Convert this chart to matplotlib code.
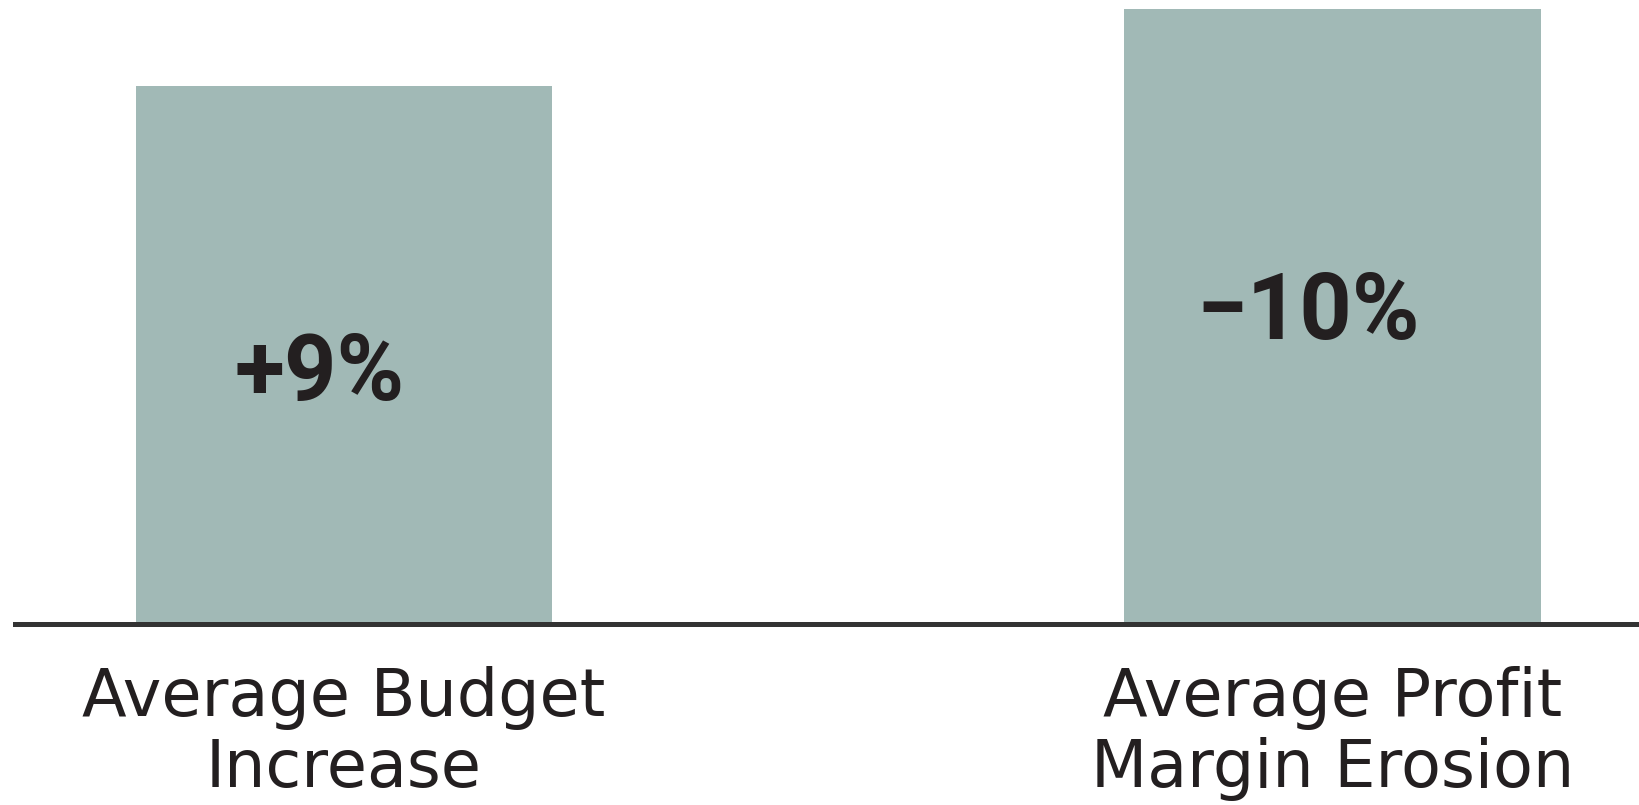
import numpy as np
import matplotlib
matplotlib.use('Agg')
import matplotlib.pyplot as plt

# data
categories = ['Average Budget\nIncrease', 'Average Profit\nMargin Erosion']
bar_heights = [8.75, 10.0]      # relative bar heights as drawn
value_labels = ['+9%', '\u221210%']

bar_color = '#a1b9b6'
text_color = '#231f20'

fig = plt.figure(figsize=(16.4, 8.05), dpi=100)
ax = fig.add_axes([0.009, 0.2248, 0.991, 0.764])

x = np.arange(len(categories))
ax.bar(x, bar_heights, width=0.4216, color=bar_color, zorder=1)

ax.set_xlim(-0.333, 1.311)
ax.set_ylim(0, 10)

# value labels sit a little left of the bar centre
label_y = [4.05, 5.05]
for xi, yy, lab in zip(x, label_y, value_labels):
    ax.text(xi - 0.025, yy, lab, ha='center', va='center',
            fontsize=66, fontweight='bold', family='Roboto',
            color=text_color, zorder=3)

for s in ['top', 'right', 'left']:
    ax.spines[s].set_visible(False)
ax.spines['bottom'].set_linewidth(3.6)
ax.spines['bottom'].set_color('#333333')
ax.spines['bottom'].set_zorder(2)

ax.set_yticks([])
ax.set_xticks(x)
ax.set_xticklabels(categories, fontsize=47, family='DejaVu Sans',
                   color=text_color, linespacing=1.14)
ax.tick_params(axis='x', length=0, pad=30)

fig.savefig('out.png', dpi=100)
